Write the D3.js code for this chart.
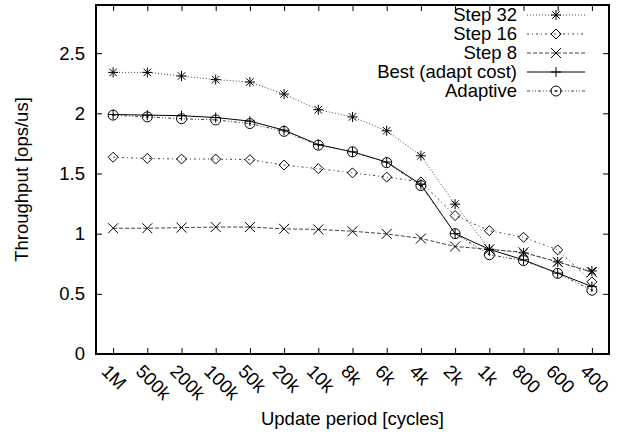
<!DOCTYPE html>
<html>
<head>
<meta charset="utf-8">
<script src="https://cdn.jsdelivr.net/npm/d3@7"></script>
<style>
  body { margin: 0; background: #fff; }
  svg { font-family: "Liberation Sans", Arial, sans-serif; }
</style>
</head>
<body>
<svg width="618" height="434"></svg>
<script>
// Categories and series
const periods = ["1M", "500k", "200k", "100k", "50k", "20k", "10k", "8k", "6k", "4k", "2k", "1k", "800", "600", "400"];
const step32 = [2.34, 2.34, 2.31, 2.28, 2.26, 2.16, 2.03, 1.97, 1.855, 1.647, 1.245, 0.87, 0.84, 0.765, 0.69];
const step16 = [1.635, 1.625, 1.62, 1.62, 1.615, 1.57, 1.54, 1.505, 1.47, 1.43, 1.15, 1.025, 0.97, 0.865, 0.60];
const step8 = [1.045, 1.045, 1.05, 1.055, 1.055, 1.04, 1.035, 1.02, 0.998, 0.96, 0.893, 0.87, 0.845, 0.765, 0.68];
const best = [1.99, 1.985, 1.98, 1.965, 1.935, 1.86, 1.74, 1.68, 1.595, 1.41, 1.0, 0.87, 0.782, 0.672, 0.56];
const adaptive = [1.985, 1.97, 1.955, 1.945, 1.915, 1.85, 1.735, 1.68, 1.59, 1.40, 1.0, 0.825, 0.776, 0.67, 0.53];
const yTicks = [0, 0.5, 1, 1.5, 2, 2.5];

const series = [
  { name: "Step 32", values: step32, dash: "1,2", mark: "star" },
  { name: "Step 16", values: step16, dash: "2,3,1,3", mark: "diamond" },
  { name: "Step 8", values: step8, dash: "4,2", mark: "cross" },
  { name: "Best (adapt cost)", values: best, dash: null, mark: "plus" },
  { name: "Adaptive", values: adaptive, dash: "3,2,1,2,1,2", mark: "circle" }
];

const margin = { left: 96, right: 9, top: 5, bottom: 80 };
const width = 618, height = 434;
const fs = 18.5; // font size

const svg = d3.select("svg");

const x = d3.scaleLinear()
    .domain([-0.5, periods.length - 0.5])
    .range([margin.left, width - margin.right]);
const y = d3.scaleLinear()
    .domain([0, 2.9])
    .range([height - margin.bottom, margin.top]);

// markers drawn as paths centred at 0,0
function markPath(type) {
  const s = 5;
  switch (type) {
    case "star": return `M${-s},0H${s}M0,${-s}V${s}M${-s*0.75},${-s*0.75}L${s*0.75},${s*0.75}M${-s*0.75},${s*0.75}L${s*0.75},${-s*0.75}`;
    case "diamond": return `M0,${-s}L${s},0L0,${s}L${-s},0Z`;
    case "cross": return `M${-s},${-s}L${s},${s}M${-s},${s}L${s},${-s}`;
    case "plus": return `M${-s},0H${s}M0,${-s}V${s}`;
    case "circle": return `M${s},0A${s},${s} 0 1,1 ${-s},0A${s},${s} 0 1,1 ${s},0ZM0.6,0A0.6,0.6 0 1,1 -0.6,0A0.6,0.6 0 1,1 0.6,0Z`;
  }
}

// Axes: inward ticks on all four sides
const xBottom = d3.axisBottom(x).tickValues(d3.range(periods.length)).tickSize(-6).tickFormat("");
const xTop = d3.axisTop(x).tickValues(d3.range(periods.length)).tickSize(-6).tickFormat("");
const yLeft = d3.axisLeft(y).tickValues(yTicks).tickSize(-6).tickPadding(11).tickFormat(d3.format("~g"));
const yRight = d3.axisRight(y).tickValues(yTicks).tickSize(-6).tickFormat("");

function styleAxis(g) {
  g.select(".domain").remove();
  g.selectAll(".tick line").attr("stroke", "#000").attr("stroke-width", 1);
  g.selectAll("text").attr("font-size", fs).attr("fill", "#000").attr("font-family", "Liberation Sans, Arial, sans-serif");
}

svg.append("g").attr("transform", `translate(0,${y(0)})`).call(xBottom).call(styleAxis);
svg.append("g").attr("transform", `translate(0,${margin.top})`).call(xTop).call(styleAxis);
svg.append("g").attr("transform", `translate(${margin.left},0)`).call(yLeft).call(styleAxis);
svg.append("g").attr("transform", `translate(${width - margin.right},0)`).call(yRight).call(styleAxis);

// rotated category labels
svg.append("g")
  .selectAll("text")
  .data(periods)
  .join("text")
    .attr("transform", (d, i) => `translate(${x(i) - 8},${y(0) + 14}) rotate(45)`)
    .attr("font-size", fs)
    .attr("text-anchor", "start")
    .attr("dy", "0.35em")
    .text(d => d);

// frame
svg.append("rect")
    .attr("x", margin.left).attr("y", margin.top)
    .attr("width", width - margin.left - margin.right)
    .attr("height", y(0) - margin.top)
    .attr("fill", "none").attr("stroke", "#000").attr("stroke-width", 2);

// axis titles
svg.append("text")
    .attr("x", (margin.left + width - margin.right) / 2)
    .attr("y", 425)
    .attr("text-anchor", "middle")
    .attr("font-size", fs)
    .text("Update period [cycles]");
svg.append("text")
    .attr("transform", `translate(28,${(margin.top + y(0)) / 2}) rotate(-90)`)
    .attr("text-anchor", "middle")
    .attr("font-size", fs)
    .text("Throughput [ops/us]");

// series
const line = d3.line().x((d, i) => x(i)).y(d => y(d));

const sg = svg.append("g").selectAll("g")
  .data(series)
  .join("g");

sg.append("path")
    .attr("d", d => line(d.values))
    .attr("fill", "none")
    .attr("stroke", d => d.dash ? "#444" : "#000")
    .attr("stroke-width", 1)
    .attr("stroke-dasharray", d => d.dash);

sg.each(function(s) {
  d3.select(this).selectAll("path.m")
    .data(s.values)
    .join("path")
      .attr("class", "m")
      .attr("transform", (d, i) => `translate(${x(i)},${y(d)})`)
      .attr("d", markPath(s.mark))
      .attr("fill", "none")
      .attr("stroke", "#000")
      .attr("stroke-width", 1);
});

// legend
const legend = svg.append("g")
  .selectAll("g")
  .data(series)
  .join("g")
    .attr("transform", (d, i) => `translate(0,${15 + i * 19})`);

legend.append("text")
    .attr("x", 517)
    .attr("dy", "0.35em")
    .attr("text-anchor", "end")
    .attr("font-size", fs)
    .text(d => d.name);
legend.append("path")
    .attr("d", "M527,0H585")
    .attr("stroke", d => d.dash ? "#444" : "#000")
    .attr("stroke-width", 1)
    .attr("stroke-dasharray", d => d.dash);
legend.append("path")
    .attr("transform", "translate(556,0)")
    .attr("d", d => markPath(d.mark))
    .attr("fill", "none")
    .attr("stroke", "#000");
</script>
</body>
</html>
